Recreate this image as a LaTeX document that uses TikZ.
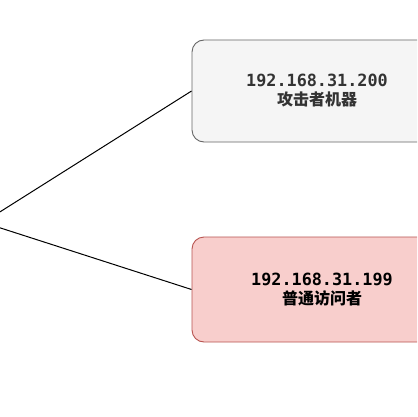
\documentclass[tikz,border=0pt]{standalone}
\usepackage{fontspec}
\setmonofont{DejaVu Sans Mono}
\newfontfamily\cjk{Noto Sans CJK SC}
\definecolor{grayfill}{HTML}{F5F5F5}
\definecolor{graystroke}{HTML}{666666}
\definecolor{redfill}{HTML}{F8CECC}
\definecolor{redstroke}{HTML}{B85450}
\definecolor{txtgray}{HTML}{333333}
\newcommand{\ipfont}{\ttfamily\fontsize{16.8}{19}\selectfont}
\tikzset{
  hostbox/.style={draw, line width=0.9pt, rounded corners=12pt, align=center, inner sep=0pt,
    font=\fontsize{16}{19}\selectfont\bfseries},
  link/.style={draw, line width=1pt}
}
\begin{document}
\begin{tikzpicture}[x=1pt,y=-1pt]
\useasboundingbox (0,0) rectangle (417,417);
\clip (0,0) rectangle (417,417);
\fill[white] (0,0) rectangle (417,417);
\node[hostbox, fill=grayfill, draw=graystroke, text=txtgray, minimum width=250pt, minimum height=102pt]
  (attacker) at (317,91) {{\ipfont 192.168.31.200}\\{\cjk 攻击者机器}};
\node[hostbox, fill=redfill, draw=redstroke, text=black, minimum width=260pt, minimum height=105pt]
  (visitor) at (322,289.5) {{\ipfont 192.168.31.199}\\{\cjk 普通访问者}};
\coordinate (a) at (-1,212.5);
\coordinate (b) at (-1,227.5);
\draw[link] (a) -- (attacker.west);
\draw[link] (b) -- (visitor.west);
\end{tikzpicture}
\end{document}
